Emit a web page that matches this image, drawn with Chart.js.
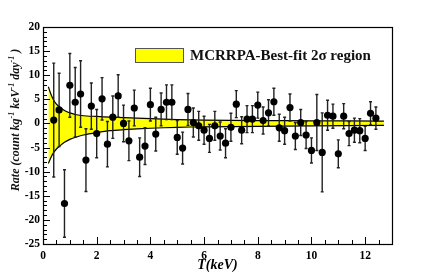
<!DOCTYPE html>
<html><head><meta charset="utf-8">
<script src="https://cdn.jsdelivr.net/npm/chart.js@4/dist/chart.umd.min.js"></script>
<style>html,body{margin:0;padding:0;background:#fff;}#wrap{width:436px;height:272px;}</style>
</head><body><div id="wrap"><canvas id="c" width="436" height="272"></canvas></div>
<script>
const ENERGY = [0.4,0.6,0.8,1.0,1.2,1.4,1.6,1.8,2.0,2.2,2.4,2.6,2.8,3.0,3.2,3.4,3.6,3.8,4.0,4.2,4.4,4.6,4.8,5.0,5.2,5.4,5.6,5.8,6.0,6.2,6.4,6.6,6.8,7.0,7.2,7.4,7.6,7.8,8.0,8.2,8.4,8.6,8.8,9.0,9.2,9.4,9.6,9.8,10.0,10.2,10.4,10.6,10.8,11.0,11.2,11.4,11.6,11.8,12.0,12.2,12.4];
const RATE = [0.7,2.8,-16.6,7.9,4.4,6.1,-7.6,3.6,-2.1,5.1,-4.3,1.3,5.7,0.0,-3.6,3.2,-7.0,-4.7,3.9,-2.2,2.9,4.4,4.4,-2.9,-5.1,2.9,0.2,-0.5,-1.4,-3.1,-0.5,-2.6,-4.1,-0.8,4.0,-1.4,0.9,0.9,3.8,0.6,2.2,4.5,-0.9,-1.5,3.3,-2.6,0.2,-2.4,-5.6,0.2,-6.0,1.7,1.5,-6.3,1.5,-2.1,-1.4,-1.5,-3.1,2.1,1.1];
const RATE_ERR = [11.8,7.6,7.0,6.6,7.2,6.9,6.5,4.8,5.0,4.4,4.7,4.4,4.4,3.8,4.1,3.7,4.0,3.8,3.4,3.5,3.4,3.6,3.6,3.5,3.3,3.3,3.0,3.0,2.9,2.9,3.0,2.9,3.0,2.9,2.8,2.8,2.8,2.8,2.7,2.8,2.7,2.8,2.8,2.8,2.8,2.8,2.7,2.8,2.6,5.8,8.2,3.1,2.5,2.9,2.6,2.5,2.5,2.5,2.5,2.4,2.3];
const BAND_X = [0.2,0.3,0.4,0.5,0.6,0.8,1.0,1.25,1.5,2.0,2.5,3.0,4.0,5.0,6.0,8.0,10.0,12.7];
const BAND_UPPER = [7.6,6.0,4.8,4.0,3.5,2.7,2.2,1.8,1.6,1.45,1.3,1.2,1.0,0.8,0.7,0.6,0.55,0.5];
const BAND_LOWER = [-8.3,-7.0,-6.0,-5.3,-4.8,-3.9,-3.3,-2.8,-2.4,-1.9,-1.5,-1.3,-1.0,-0.8,-0.7,-0.6,-0.5,-0.4];
const X_TICKS = [0,2,4,6,8,10,12];
const Y_TICKS = [-25,-20,-15,-10,-5,0,5,10,15,20];
const X_TITLE = 'T(keV)';
const Y_TITLE_PARTS = [['Rate (count kg',0],['-1',1],[' keV',0],['-1',1],[' day',0],['-1',1],[' )',0]];
const LEGEND_LABEL = 'MCRRPA-Best-fit 2\u03c3 region';

const SERIF = '"Liberation Serif","Times New Roman",serif';

const errorBars = {
  id:'errorBars',
  beforeDatasetDraw(chart, args){
    if(args.index!==2) return;
    const {ctx, scales:{x,y}} = chart;
    ctx.save();
    ctx.strokeStyle='#222'; ctx.lineWidth=1.4;
    ENERGY.forEach((e,i)=>{
      const px=x.getPixelForValue(e);
      const y1=y.getPixelForValue(RATE[i]+RATE_ERR[i]);
      const y2=y.getPixelForValue(RATE[i]-RATE_ERR[i]);
      ctx.beginPath();
      ctx.moveTo(px,y1); ctx.lineTo(px,y2);
      ctx.moveTo(px-1.5,y1); ctx.lineTo(px+1.5,y1);
      ctx.moveTo(px-1.5,y2); ctx.lineTo(px+1.5,y2);
      ctx.stroke();
    });
    ctx.restore();
  }
};

const frameTicks = {
  id:'frameTicks',
  afterDatasetsDraw(chart){
    const {ctx, chartArea:a, scales:{x,y}} = chart;
    ctx.save();
    ctx.strokeStyle='#000'; ctx.lineWidth=1;
    ctx.beginPath();
    for(let v=x.min; v<=x.max+1e-9; v+=0.5){
      const px=Math.round(x.getPixelForValue(v))+0.5;
      const len = (Math.abs(v/2-Math.round(v/2))<1e-9)?7:4;
      ctx.moveTo(px,a.bottom); ctx.lineTo(px,a.bottom-len);
    }
    for(let v=y.min; v<=y.max+1e-9; v+=1){
      const py=Math.round(y.getPixelForValue(v))+0.5;
      const len = (Math.abs(v/5-Math.round(v/5))<1e-9)?7:4;
      ctx.moveTo(a.left,py); ctx.lineTo(a.left+len,py);
    }
    ctx.stroke();
    ctx.lineWidth=1.2;
    ctx.strokeRect(Math.round(a.left)+0.5,Math.round(a.top)+0.5,Math.round(a.right-a.left),Math.round(a.bottom-a.top));
    ctx.restore();
  },
  afterDraw(chart){
    const {ctx, chartArea:a} = chart;
    ctx.save();
    // legend
    const bx=a.left+92, by=a.top+21, bw=48, bh=14;
    ctx.fillStyle='#ffff00'; ctx.fillRect(bx,by,bw,bh);
    ctx.strokeStyle='#555'; ctx.lineWidth=1; ctx.strokeRect(bx+0.5,by+0.5,bw,bh);
    ctx.fillStyle='#111'; ctx.font='bold 15px '+SERIF; ctx.textBaseline='middle'; ctx.textAlign='left';
    ctx.fillText(LEGEND_LABEL, bx+bw+7, by+bh/2+1);
    // y title
    ctx.translate(15,120); ctx.rotate(-Math.PI/2);
    const mainF='italic bold 12px '+SERIF, supF='italic bold 8px '+SERIF;
    let total=0;
    Y_TITLE_PARTS.forEach(([t,s])=>{ctx.font=s?supF:mainF; total+=ctx.measureText(t).width;});
    let cx=-total/2;
    ctx.textBaseline='alphabetic';
    Y_TITLE_PARTS.forEach(([t,s])=>{ctx.font=s?supF:mainF; ctx.fillText(t,cx,s?-1:4); cx+=ctx.measureText(t).width;});
    ctx.restore();
  }
};

new Chart(document.getElementById('c'),{
  type:'scatter',
  data:{datasets:[
    {type:'line',label:LEGEND_LABEL,data:BAND_X.map((v,i)=>({x:v,y:BAND_UPPER[i]})),borderColor:'#000',borderWidth:1.2,backgroundColor:'#ffff00',fill:'+1',pointRadius:0,tension:0.3,order:3},
    {type:'line',label:'lower',data:BAND_X.map((v,i)=>({x:v,y:BAND_LOWER[i]})),borderColor:'#000',borderWidth:1.2,backgroundColor:'#ffff00',fill:false,pointRadius:0,tension:0.3,order:2},
    {label:'data',data:ENERGY.map((v,i)=>({x:v,y:RATE[i]})),backgroundColor:'#000',borderColor:'#000',pointRadius:3.6,pointBorderWidth:0,order:1}
  ]},
  options:{
    responsive:false,animation:false,devicePixelRatio:1,
    layout:{padding:{left:0,right:44,top:27,bottom:0}},
    plugins:{legend:{display:false},tooltip:{enabled:false}},
    scales:{
      x:{type:'linear',min:0,max:13,
        afterBuildTicks:s=>{s.ticks=X_TICKS.map(v=>({value:v}));},
        afterFit:s=>{s.height=28;},
        grid:{display:false,drawTicks:false},border:{display:false},
        ticks:{padding:5,color:'#000',font:{family:SERIF,size:11.5,weight:'bold'},maxRotation:0,autoSkip:false},
        title:{display:true,text:X_TITLE,color:'#000',font:{family:SERIF,size:14,weight:'bold',style:'italic',lineHeight:1},padding:{top:0,bottom:0}}
      },
      y:{type:'linear',min:-25,max:20,
        afterBuildTicks:s=>{s.ticks=Y_TICKS.map(v=>({value:v}));},
        afterFit:s=>{s.width=43;},
        grid:{display:false,drawTicks:false},border:{display:false},
        ticks:{padding:3,color:'#000',font:{family:SERIF,size:11.5,weight:'bold'},autoSkip:false}
      }
    }
  },
  plugins:[errorBars,frameTicks]
});
</script></body></html>
